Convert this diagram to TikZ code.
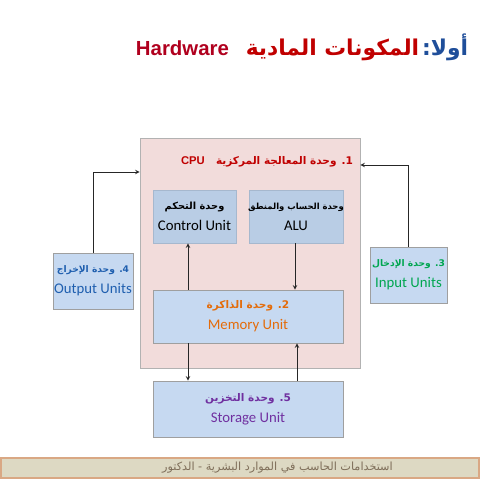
\documentclass[tikz,border=0pt]{standalone}
\usepackage{fontspec}
\setsansfont{Carlito}
\newfontfamily\arabicfont[Script=Arabic]{DejaVu Sans}
\newfontfamily\hwfont{Liberation Sans}
\TeXXeTstate=1
\usetikzlibrary{fit}

\definecolor{cpupink}{HTML}{F2DCDB}
\definecolor{boxblue}{HTML}{B9CDE5}
\definecolor{lightblue}{HTML}{C6D9F1}
\definecolor{cpured}{HTML}{C00000}
\definecolor{hwred}{HTML}{B0001E}
\definecolor{titleblue}{HTML}{1F4E9A}
\definecolor{memorange}{HTML}{E46C0A}
\definecolor{outblue}{HTML}{1F5FAF}
\definecolor{ingreen}{HTML}{00A650}
\definecolor{storpurple}{HTML}{7030A0}
\definecolor{footfill}{HTML}{DDD9C3}
\definecolor{footline}{HTML}{D9A884}
\definecolor{foottext}{HTML}{7F6F5A}

% arabic text, right to left
\newcommand{\artext}[1]{{\arabicfont\beginR #1\endR}}
% two lines of a unit box: arabic name over english name
\newcommand{\unitlines}[3][7.5]{{\fontsize{#1}{9}\selectfont\bfseries\artext{#2}}\\[3pt]{\sffamily\fontsize{10.5}{12}\selectfont #3}}

\begin{document}
\begin{tikzpicture}[x=0.025cm, y=-0.025cm, >=stealth,
    every node/.style={inner sep=0pt},
    cpubox/.style={draw=gray!60, fill=cpupink},
    innerbox/.style={draw=boxblue!90!black, fill=boxblue},
    unitbox/.style={draw=gray!75, fill=lightblue},
    unittext/.style={align=center},
    link/.style={->, black!85, line width=0.5pt}]
  \useasboundingbox (0,0) rectangle (480,480);

  % title
  \node (title) at (302,47) {{\hwfont\bfseries\fontsize{14.5}{18}\selectfont\color{hwred}Hardware}\hspace{12pt}{\color{cpured}\fontsize{15.5}{20}\selectfont\bfseries\artext{المكونات المادية}}\hspace{2pt}{\color{titleblue}\fontsize{15.5}{20}\selectfont\bfseries\artext{أولا:}}};

  % central processing unit
  \node[cpubox, fit={(140,138) (360,368)}] (cpu) {};
  \node (cputitle) at (267,162) {\color{cpured}\bfseries{\hwfont\fontsize{8}{10}\selectfont CPU}\hspace{8pt}{\fontsize{7.5}{10}\selectfont\artext{1. وحدة المعالجة المركزية}}};
  \node[innerbox, fit={(153,190) (236,243)}] (ctrl) {};
  \node[unittext] (ctrltext) at (ctrl) {\unitlines[7]{وحدة التحكم}{Control Unit}};
  \node[innerbox, fit={(249,190) (343,243)}] (alu) {};
  \node[unittext] (alutext) at (alu) {\unitlines[6]{وحدة الحساب والمنطق}{ALU}};
  \node[unitbox, fit={(153,290) (343,343)}] (mem) {};
  \node[unittext, text=memorange] (memtext) at (mem) {\unitlines{2. وحدة الذاكرة}{Memory Unit}};

  % outer units
  \node[unitbox, fit={(53,253) (133,309)}] (outp) {};
  \node[unittext, text=outblue] (outptext) at (outp) {\unitlines[6.5]{4. وحدة الإخراج}{Output Units}};
  \node[unitbox, fit={(370,247) (447,303)}] (inp) {};
  \node[unittext, text=ingreen] (inptext) at (inp) {\unitlines[6.5]{3. وحدة الإدخال}{Input Units}};
  \node[unitbox, fit={(153,381) (343,437)}] (stor) {};
  \node[unittext, text=storpurple] (stortext) at (stor) {\unitlines{5. وحدة التخزين}{Storage Unit}};

  % connectors
  \draw[link] (outp.north) |- (cpu.west |- 0,172);
  \draw[link] (inp.north) |- (cpu.east |- 0,165);
  \draw[link] (mem.north -| 188,0) -- (ctrl.south -| 188,0);
  \draw[link] (alu.south -| 295,0) -- (mem.north -| 295,0);
  \draw[link] (mem.south -| 188,0) -- (stor.north -| 188,0);
  \draw[link] (stor.north -| 297,0) -- (mem.south -| 297,0);

  % footer
  \draw[draw=footline, fill=footfill, line width=0.8pt] (1,458) rectangle (479,478);
  \node[anchor=east, text=foottext] (foot) at (393,468) {\fontsize{8}{10}\selectfont\artext{استخدامات الحاسب في الموارد البشرية - الدكتور}};
\end{tikzpicture}
\end{document}
